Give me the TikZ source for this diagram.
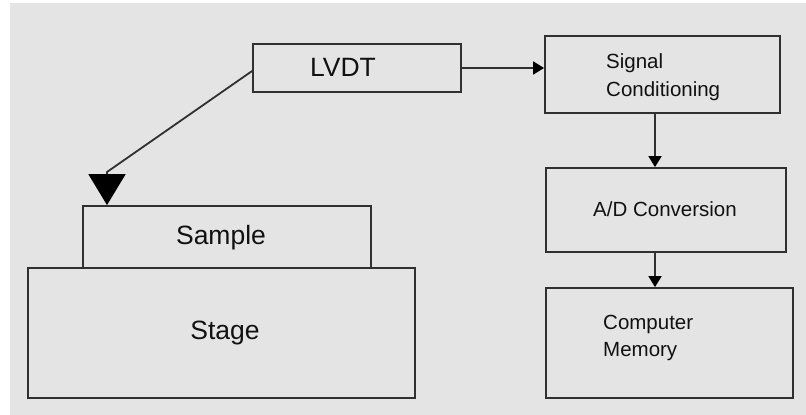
\documentclass[tikz,border=0pt]{standalone}
\usepackage{fontspec}
\setmainfont{Liberation Sans}
\usetikzlibrary{arrows.meta,calc}
\definecolor{bg}{HTML}{E4E4E4}
\definecolor{ink}{HTML}{303030}
\definecolor{txt}{HTML}{111111}
\tikzset{
  box/.style={draw=ink, line width=1.8pt, rectangle, inner sep=0pt, text=txt},
  bigtxt/.style={font=\fontsize{26.5}{30}\selectfont, text=txt, inner sep=0pt},
  smalltxt/.style={font=\fontsize{20.5}{27.5}\selectfont, text=txt, inner sep=0pt, align=left},
  conn/.style={draw=ink, line width=1.8pt, -{Triangle[width=13pt,length=11pt,fill=black,color=black]}},
  bigconn/.style={draw=ink, line width=1.8pt, -{Triangle[width=37pt,length=31pt,fill=black,color=black]}},
}
\begin{document}
\begin{tikzpicture}[x=1pt,y=-1pt]
\useasboundingbox (0,0) rectangle (806,415);
\fill[white] (0,0) rectangle (806,415);
\fill[bg] (10,3) rectangle (806,415);
% boxes
\node[box, minimum width=208pt, minimum height=48pt] (lvdt) at (357,68) {};
\node[bigtxt] (lvdtt) at (343,67) {LVDT};
\node[box, minimum width=387pt, minimum height=130pt] (stage) at (221.5,333) {};
\node[bigtxt] (staget) at (225,333) {Stage};
\node[box, minimum width=288pt, minimum height=62pt] (sample) at (227,237) {};
\node[bigtxt] (samplet) at (221,238) {Sample};
\node[box, minimum width=235pt, minimum height=77pt] (sc) at (662.5,74.5) {};
\node[smalltxt, anchor=west] (sct) at (606,77) {Signal\\Conditioning};
\node[box, minimum width=240pt, minimum height=84pt] (ad) at (666,210) {};
\node[smalltxt] (adt) at (665,209) {A/D Conversion};
\node[box, minimum width=247pt, minimum height=110pt] (cm) at (669.5,343) {};
\node[smalltxt, anchor=west] (cmt) at (603,338) {Computer\\Memory};
% connectors
\coordinate (vx) at (655,0);
\coordinate (bend) at (107,172);
\draw[conn] (lvdt.east) -- (lvdt.east -| sc.west);
\draw[conn] (sc.south -| vx) -- (ad.north -| vx);
\draw[conn] (ad.south -| vx) -- (cm.north -| vx);
\draw[bigconn] ([yshift=-3pt]lvdt.west) -- (bend) -- (bend |- sample.north);
\end{tikzpicture}
\end{document}
